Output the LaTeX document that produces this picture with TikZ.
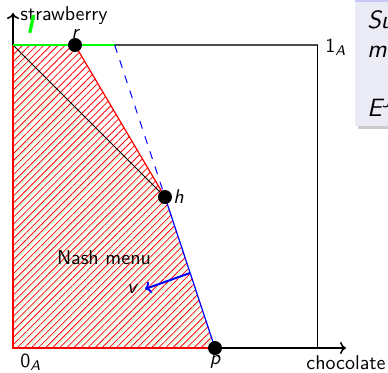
\documentclass[tikz,border=0pt]{standalone}
\usetikzlibrary{patterns.meta,arrows.meta}
\renewcommand\familydefault{\sfdefault}
\definecolor{blockbg}{RGB}{235,235,246}
\definecolor{lightgreen}{RGB}{170,240,170}
\begin{document}
\begin{tikzpicture}[x=0.5pt,y=-0.5pt,
  dot/.style={circle,fill=black,inner sep=0pt,minimum size=7pt},
  lbl/.style={inner sep=0pt,font=\fontsize{10}{12}\selectfont},
  blk/.style={inner sep=0pt,anchor=base west,font=\fontsize{12.5}{14}\selectfont\itshape},
  axis/.style={line width=0.8pt,-{To[length=3pt,width=6pt]}},
  edge/.style={red,line width=0.8pt}]
\useasboundingbox (0,0) rectangle (388,372);
\clip (0,0) rectangle (388,372);
% partial block on the right
\fill[black!20] (358,3) rectangle (392,129);
\fill[blockbg] (355,0) rectangle (392,126);
\fill[blockbg!85!blue] (355,0) rectangle (392,2);
\node[blk] (b1) at (367,28) {Su};
\node[blk] (b2) at (367,57) {m};
\node[blk] (b3) at (367,116) {E\textsuperscript{J}};
% coordinates
\coordinate (O) at (13,348);
\coordinate (TL) at (13,45);
\coordinate (TR) at (318,45);
\coordinate (BR) at (318,348);
\coordinate (Q) at (114.7,45);
\coordinate (R) at (75,45);
\coordinate (H) at (165,197);
\coordinate (P) at (215,348);
\coordinate (XE) at (346,348);
\coordinate (YE) at (13,13);
\coordinate (V1) at (190,273);
\coordinate (V2) at (145,289);
% hatching
\fill[pattern={Lines[angle=45,distance=2.5pt,line width=0.2pt,xshift=1.25pt]},pattern color=lightgreen]
  (O) -- (TL) -- (H) -- (P) -- cycle;
\fill[pattern={Lines[angle=45,distance=2.5pt,line width=0.4pt]},pattern color=red]
  (O) -- (TL) -- (R) -- (H) -- (P) -- cycle;
% box
\draw[black!70,line width=0.8pt] (Q) -- (TR);
\draw[line width=0.5pt] (TR) -- (BR);
% axes
\draw[axis] (O) -- (XE);
\draw[axis] (O) -- (YE);
% region edges
\draw[edge] (P) -- (O) -- (TL);
\draw[red,line width=0.6pt] (R) -- (H);
\draw[line width=0.4pt] (TL) -- (H);
\draw[green,line width=1.2pt] (TL) -- (Q);
\draw[blue,line width=0.5pt,dash pattern=on 4pt off 4pt] (Q) -- (H);
\draw[blue,line width=0.6pt] (H) -- (P);
\draw[blue,line width=1pt,-{To[length=3pt,width=6pt]}] (V1) -- (V2);
% points
\node[dot] (r) at (R) {};
\node[dot] (h) at (H) {};
\node[dot] (p) at (P) {};
% labels
\node[lbl,anchor=base west] (ls) at (20,20) {strawberry};
\node[lbl,anchor=base west] (lc) at (306,369) {chocolate};
\node[lbl,anchor=base west] (l0) at (20,367) {0\textsubscript{\itshape A}};
\node[lbl,anchor=base west] (l1) at (325,52) {1\textsubscript{\itshape A}};
\node[lbl,anchor=base] (lr) at (75,38) {\itshape r};
\node[lbl,anchor=base west] (lh) at (173,203) {\itshape h};
\node[lbl,anchor=base] (lp) at (215,364) {\itshape p};
\node[lbl,anchor=base] (lv) at (132,293) {\itshape v};
\node[lbl,anchor=base] (ln) at (104,264) {Nash menu};
\node[lbl,anchor=base,text=green,font=\fontsize{13}{14}\selectfont\bfseries\itshape] (ll) at (30,33) {l};
\end{tikzpicture}
\end{document}
